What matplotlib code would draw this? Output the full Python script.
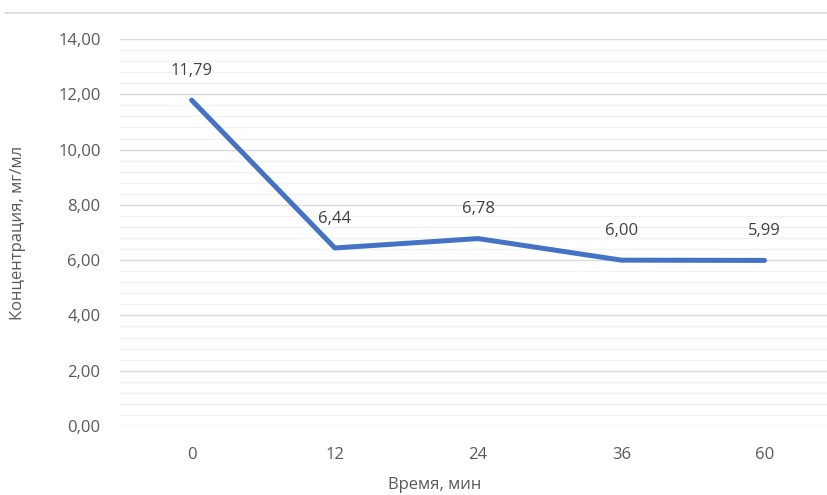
import matplotlib.pyplot as plt
from matplotlib.lines import Line2D
from matplotlib.ticker import MultipleLocator

# время отбора проб и концентрация
times = ["0", "12", "24", "36", "60"]
conc = [11.79, 6.44, 6.78, 6.00, 5.99]

plt.rcParams['font.family'] = ['Open Sans', 'DejaVu Sans']
txt = '#595959'
fs = 12

fig = plt.figure(figsize=(8.27, 4.95), dpi=100)
ax = fig.add_axes([0.1451, 0.1394, 0.866, 0.7818])

x = list(range(len(times)))
ax.plot(x, conc, color='#4472C4', lw=3.6, solid_capstyle='round',
        solid_joinstyle='round', zorder=3)

for xi, v in zip(x, conc):
    ax.annotate(f"{v:.2f}".replace('.', ','), (xi, v), xytext=(0, 21),
                textcoords='offset points', ha='center', va='center',
                fontsize=fs, color='#404040', zorder=4)

ax.set_xlim(-0.5, len(times) - 0.5)
ax.set_ylim(0, 14)
ax.set_xticks(x)
ax.set_xticklabels(times)
ax.set_yticks(range(0, 15, 2))
ax.set_yticklabels([f"{v:.2f}".replace('.', ',') for v in range(0, 15, 2)])
ax.yaxis.set_minor_locator(MultipleLocator(0.4))

ax.grid(which='major', axis='y', color='#d9d9d9', lw=1.0)
ax.grid(which='minor', axis='y', color='#f2f2f2', lw=1.0)
ax.set_axisbelow(True)
for s in ax.spines.values():
    s.set_visible(False)
ax.tick_params(which='both', length=0, colors=txt, labelsize=fs)
ax.tick_params(axis='x', pad=15)
ax.tick_params(axis='y', pad=14)

ax.set_ylabel("Концентрация, мг/мл", color=txt, fontsize=fs)
ax.yaxis.set_label_coords(-0.131, 0.5)
fig.text(435 / 827, 1 - 485 / 495, "Время, мин", ha='center', va='center',
         color=txt, fontsize=fs)

fig.add_artist(Line2D([5 / 827, 1], [1 - 13 / 495] * 2, color='#d9d9d9', lw=1.2))

fig.savefig('out.png', dpi=100)
